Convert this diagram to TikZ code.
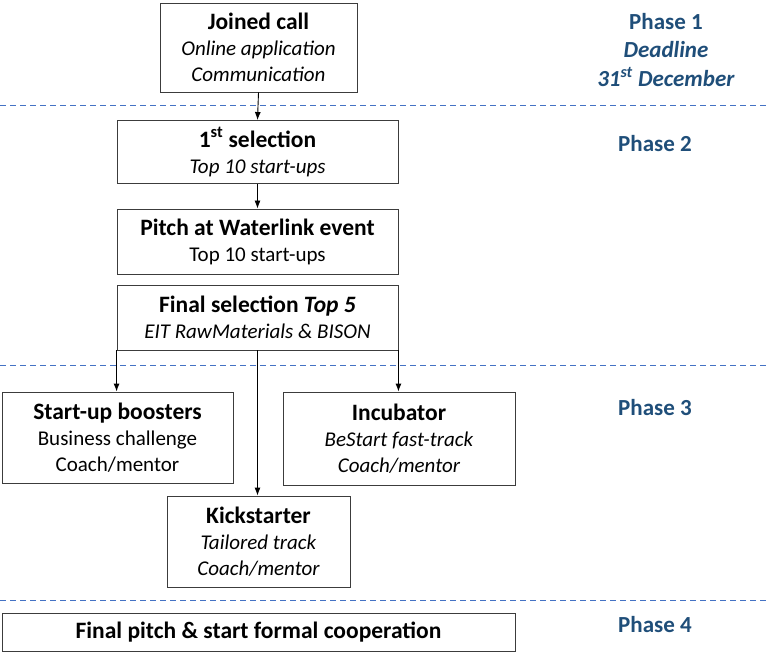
\documentclass[tikz,border=0pt]{standalone}
\usepackage{fontspec}
\setmainfont{Carlito}
\usepackage{tikz}
\usetikzlibrary{shapes,arrows,arrows.meta,positioning,calc}
\usepackage{xcolor}
\definecolor{phaseblue}{RGB}{31,78,121}
\definecolor{lineblue}{RGB}{68,114,196}
\definecolor{boxgray}{RGB}{60,60,60}

\tikzset{
    stagebox/.style={draw=boxgray,line width=0.9pt,rectangle,align=center,
        inner sep=0pt,font=\fontsize{21}{26}\selectfont},
    phaselbl/.style={align=center,text=phaseblue,
        font=\fontsize{23}{28.5}\selectfont\bfseries},
    flow/.style={-{Latex[length=8pt,width=6pt]},line width=0.9pt,black},
    phaseline/.style={lineblue,line width=0.9pt,dash pattern=on 6pt off 4pt}
}

\newcommand{\ttl}[1]{{\fontsize{23.5}{26}\selectfont\bfseries #1}}

\begin{document}
\begin{tikzpicture}[x=1pt,y=-1pt]
    \useasboundingbox (0,0) rectangle (768,660);

    % Phase 1
    \node[stagebox,minimum width=197pt,minimum height=89pt] (call) at (258.5,47.5)
        {\ttl{Joined call}\\\textit{Online application}\\\textit{Communication}};
    \node[phaselbl] (ph1) at (666,50)
        {Phase 1\\\textit{Deadline}\\\textit{31\textsuperscript{st} December}};
    \draw[phaseline] (0,105) -- (768,105);

    % Phase 2
    \node[stagebox,minimum width=281pt,minimum height=63pt] (sel1) at (257.5,152)
        {\ttl{1\textsuperscript{st} selection}\\\textit{Top 10 start-ups}};
    \node[stagebox,minimum width=281pt,minimum height=65pt] (pitch) at (257.5,241.5)
        {\ttl{Pitch at Waterlink event}\\Top 10 start-ups};
    \node[stagebox,minimum width=281pt,minimum height=65pt] (final) at (257.5,317.5)
        {\ttl{Final selection \textit{Top 5}}\\\textit{EIT RawMaterials \& BISON}};
    \node[phaselbl] (ph2) at (655,144) {Phase 2};
    \draw[phaseline] (0,365) -- (768,365);

    % Phase 3
    \node[stagebox,minimum width=231pt,minimum height=91pt] (boost) at (117.5,437.5)
        {\ttl{Start-up boosters}\\Business challenge\\Coach/mentor};
    \node[stagebox,minimum width=232pt,minimum height=93pt] (incub) at (399,438.5)
        {\ttl{Incubator}\\\textit{BeStart fast-track}\\\textit{Coach/mentor}};
    \node[stagebox,minimum width=183pt,minimum height=91pt] (kick) at (258.5,541.5)
        {\ttl{Kickstarter}\\\textit{Tailored track}\\\textit{Coach/mentor}};
    \node[phaselbl] (ph3) at (655,408) {Phase 3};
    \draw[phaseline] (0,600) -- (768,600);

    % Phase 4
    \node[stagebox,minimum width=513pt,minimum height=38pt] (coop) at (258.5,632)
        {\ttl{Final pitch \& start formal cooperation}};
    \node[phaselbl] (ph4) at (655,625) {Phase 4};

    % arrows
    \draw[flow] (call.south) -- (sel1.north);
    \draw[flow] (sel1.south) -- (pitch.north);
    \draw[flow] (final.south west) -- (final.south west |- boost.north);
    \draw[flow] (final.south east) -- (final.south east |- incub.north);
    \draw[flow] (final.south) -- (final.south |- kick.north);
\end{tikzpicture}
\end{document}
